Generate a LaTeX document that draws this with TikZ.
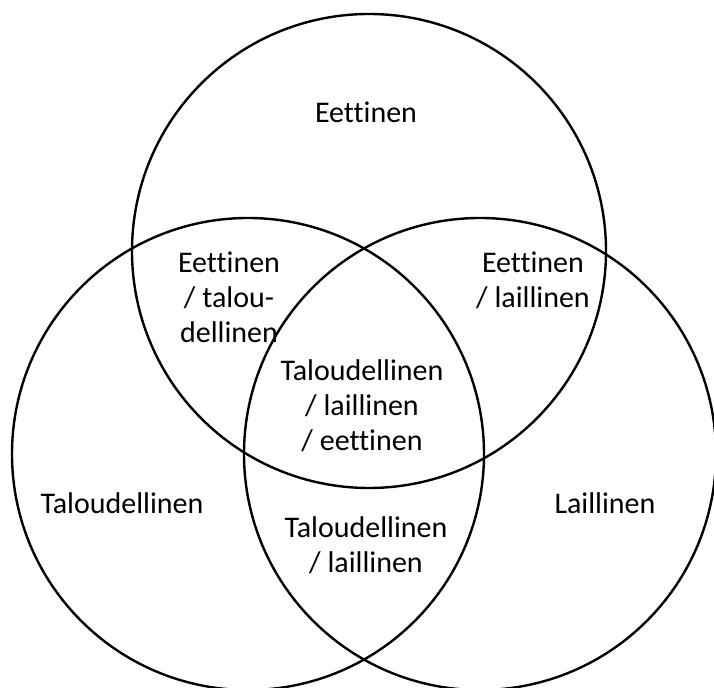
\documentclass[tikz,border=0pt]{standalone}
\usepackage{fontspec}
\setmainfont[Ligatures=NoCommon]{Carlito}

\begin{document}
\begin{tikzpicture}[x=0.5pt,y=-0.5pt,
	ring/.style={line width=1.2pt},
	lbl/.style={align=center,font=\fontsize{15}{17.5}\selectfont}]
	\useasboundingbox (0,0) rectangle (714,688);
	\draw[ring] (369,251) circle[radius=237];
	\draw[ring] (248,454) circle[radius=236];
	\draw[ring] (480,454) circle[radius=236];
	\node[lbl] (eet) at (366,112) {Eettinen};
	\node[lbl] (eettal) at (229,297) {Eettinen\\/ talou-\\dellinen};
	\node[lbl] (eetlai) at (533,280) {Eettinen\\/ laillinen};
	\node[lbl] (kaikki) at (362,406) {Taloudellinen\\/ laillinen\\/ eettinen};
	\node[lbl] (tal) at (122,503) {Taloudellinen};
	\node[lbl] (tallai) at (366,545) {Taloudellinen\\/ laillinen};
	\node[lbl] (lai) at (605,503) {Laillinen};
\end{tikzpicture}
\end{document}
